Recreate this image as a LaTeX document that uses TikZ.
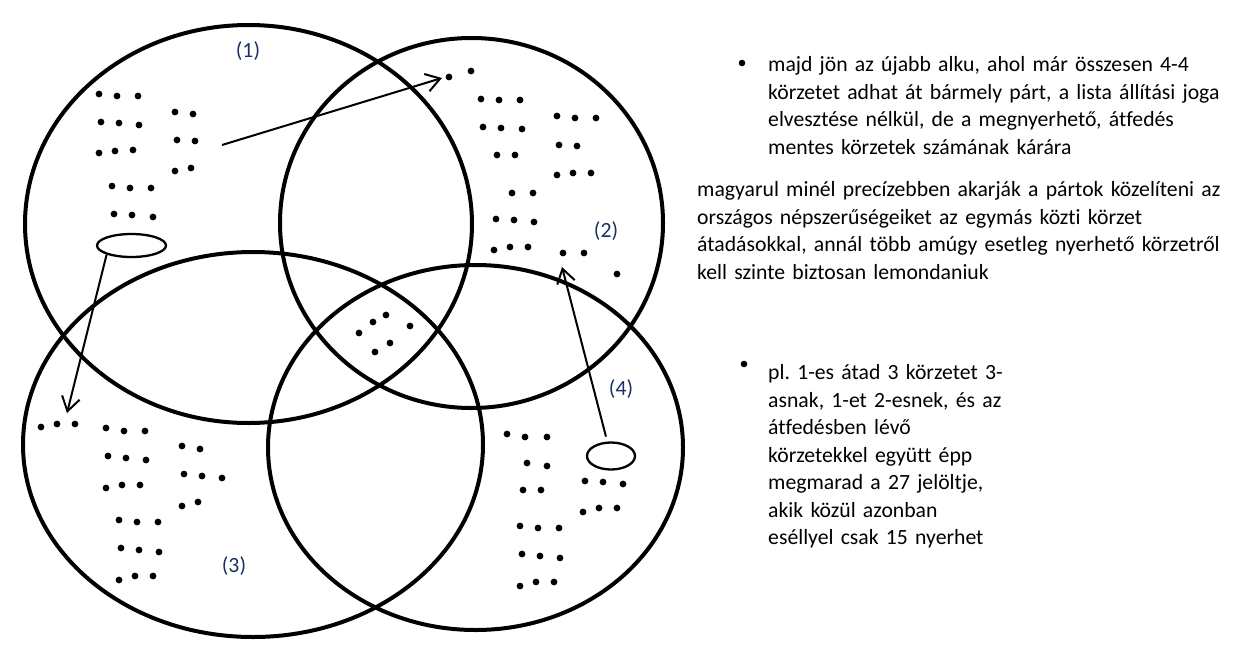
\documentclass[tikz,border=0pt]{standalone}
\usepackage{fontspec}
\setmainfont{Carlito}[Ligatures=NoCommon]
\usepackage{tikz}
\usetikzlibrary{
  arrows.meta,
  shapes.geometric
}
\definecolor{labelblue}{RGB}{28,48,100}
\frenchspacing

\begin{document}
\begin{tikzpicture}[x=1pt, y=-1pt, font=\fontsize{21.7}{27.5}\selectfont,
  ring/.style={line width=4pt},
  oval/.style={ellipse, draw, line width=2.3pt, inner sep=0pt},
  pass/.style={line width=2pt, -{Straight Barb[length=14pt,width=18pt]}},
  num/.style={text=labelblue, inner sep=0pt},
  para/.style={text width=560pt, align=left, anchor=base west, inner sep=0pt}]
  \useasboundingbox (0,0) rectangle (1236,662);

  % Districts (1)-(4)
  \draw[ring] (248.5,224) ellipse [x radius=223.5, y radius=199];
  \draw[ring] (471.5,223) ellipse [x radius=191.5, y radius=185];
  \draw[ring] (253,444.5) ellipse [x radius=230, y radius=192.5];
  \draw[ring] (475.5,447.5) ellipse [x radius=207.5, y radius=182.5];

  % Labels
  \node[num] (lab1) at (248,51) {(1)};
  \node[num] (lab2) at (606,231) {(2)};
  \node[num] (lab3) at (234,566) {(3)};
  \node[num] (lab4) at (621,389) {(4)};

  % Dots in (1)
  \foreach \x/\y in {99/94, 117/96, 138/96, 101/122, 119/123, 139/125,
      99/153, 115/151, 133/150, 175/112, 193/114, 177/140, 195/141,
      175/171, 191/168, 112/186, 130/188, 151/188, 114/214, 132/215, 153/217}
    \fill (\x,\y) circle [radius=3.4];
  % Dots in (2)
  \foreach \x/\y in {449/77, 471/71, 481/99, 499/100, 520/100, 483/127,
      501/128, 522/129, 497/155, 515/155, 557/116, 575/118, 596/118,
      559/145, 577/146, 557/175, 573/173, 591/173, 512/193, 533/193,
      496/219, 514/220, 534/222, 494/250, 510/247, 528/247, 563/253,
      584/253, 617/274}
    \fill (\x,\y) circle [radius=3.4];
  % Dots in the overlap
  \foreach \x/\y in {359/333, 373/322, 386/315, 410/326, 390/343, 375/352}
    \fill (\x,\y) circle [radius=3.4];
  % Dots in (3)
  \foreach \x/\y in {41/427, 57/424, 75/424, 106/428, 124/431, 145/431,
      108/456, 126/458, 146/460, 106/488, 122/485, 140/485, 182/446,
      200/449, 184/474, 202/476, 222/478, 182/506, 198/502, 119/520,
      137/522, 158/522, 121/548, 139/550, 159/552, 119/580, 135/576, 153/576}
    \fill (\x,\y) circle [radius=3.4];
  % Dots in (4)
  \foreach \x/\y in {507/434, 525/437, 547/437, 527/463, 547/466, 523/490,
      541/490, 520/526, 538/528, 559/528, 522/554, 540/556, 560/558,
      520/586, 536/582, 554/582, 585/481, 603/482, 623/484, 583/512,
      599/508, 617/508}
    \fill (\x,\y) circle [radius=3.4];

  % Handed-over districts
  \node[oval, minimum width=69pt, minimum height=23pt] (ovA) at (131.5,245.5) {};
  \node[oval, minimum width=48pt, minimum height=27pt] (ovB) at (611,456) {};
  \coordinate (fromC) at (222,145);
  \coordinate (tipC) at (442,78);
  \coordinate (tipA) at (67,413);
  \coordinate (tipB) at (562,267);
  \draw[pass] (fromC) -- (tipC);
  \draw[pass] (ovA.200) -- (tipA);
  \draw[pass, shorten <=5pt] (ovB) -- (tipB);

  % Notes
  \fill (742,63) circle [radius=3.3];
  \node[para] (note1) at (768,71.5) {majd jön az újabb alku, ahol már összesen 4-4\\
    körzetet adhat át bármely párt, a lista állítási joga\\
    elvesztése nélkül, de a megnyerhető, átfedés\\
    mentes körzetek számának kárára};
  \node[para] (note2) at (697,196.5) {magyarul minél precízebben akarják a pártok közelíteni az\\
    országos népszerűségeiket az egymás közti körzet\\
    átadásokkal, annál több amúgy esetleg nyerhető körzetről\\
    kell szinte biztosan lemondaniuk};
  \fill (744,364) circle [radius=3.3];
  \node[para] (note3) at (768,379.5) {pl. 1-es átad 3 körzetet 3-\\
    asnak, 1-et 2-esnek, és az\\
    átfedésben lévő\\
    körzetekkel együtt épp\\
    megmarad a 27 jelöltje,\\
    akik közül azonban\\
    eséllyel csak 15 nyerhet};
\end{tikzpicture}
\end{document}
